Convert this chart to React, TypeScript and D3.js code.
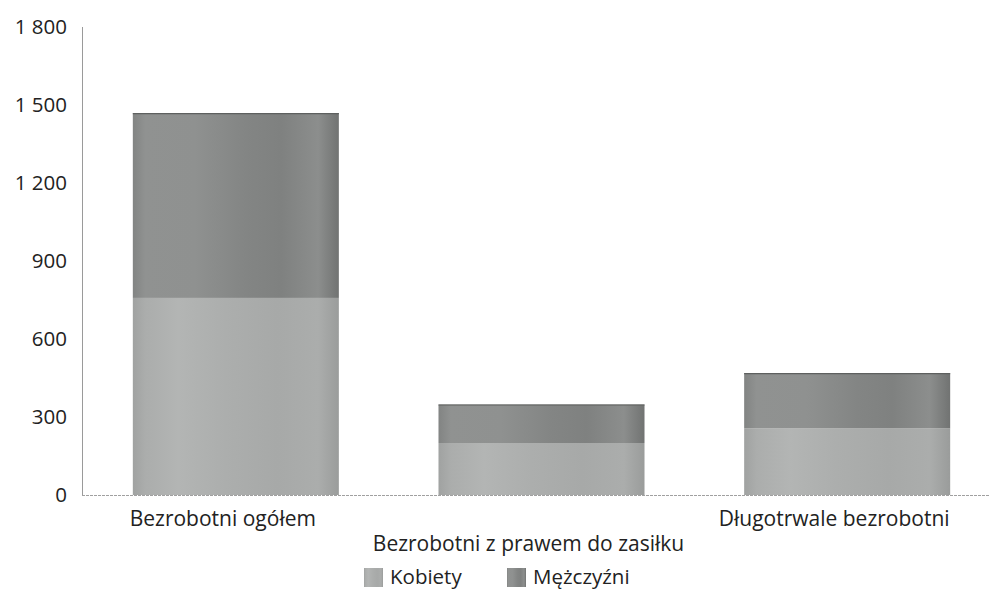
import React from "react";
import * as d3 from "d3";

const categories = ["Bezrobotni ogółem", "Bezrobotni z prawem do zasiłku", "Długotrwale bezrobotni"];
const seriesNames = ["Kobiety", "Mężczyźni"];
const kobiety = [758, 200, 256];
const mezczyzni = [711, 148, 213];
const yTicks = [0, 300, 600, 900, 1200, 1500, 1800];

const W = 989;
const H = 597;
const FONT = "'Open Sans', 'Noto Sans', sans-serif";

const locale = d3.formatLocale({ decimal: ",", thousands: " ", grouping: [3], currency: ["", ""] });
const fmt = locale.format(",d");

export default function App() {
  const x = d3.scaleBand<string>().domain(categories).range([83, 1000]).paddingInner(0.326).paddingOuter(0.163);
  const y = d3.scaleLinear().domain([0, 1800]).range([495, 27]);

  const rows = categories.map((c, i) => ({ cat: c, Kobiety: kobiety[i], "Mężczyźni": mezczyzni[i] }));
  const stack = d3.stack<any>().keys(seriesNames)(rows);

  const gradIds = ["gK", "gM"];
  const labelDy = [0, 25, 0];

  return (
    <svg width={W} height={H} style={{ position: "absolute", left: 0, top: 0, background: "#fff" }}>
      <defs>
        <linearGradient id="gK" x1="0" y1="0" x2="1" y2="0">
          <stop offset="0" stopColor="#a0a2a1" />
          <stop offset="0.06" stopColor="#abadac" />
          <stop offset="0.22" stopColor="#b3b5b4" />
          <stop offset="0.45" stopColor="#acaead" />
          <stop offset="0.7" stopColor="#a7a9a8" />
          <stop offset="0.9" stopColor="#abadac" />
          <stop offset="1" stopColor="#9a9c9b" />
        </linearGradient>
        <linearGradient id="gM" x1="0" y1="0" x2="1" y2="0">
          <stop offset="0" stopColor="#828483" />
          <stop offset="0.06" stopColor="#909291" />
          <stop offset="0.3" stopColor="#8f9190" />
          <stop offset="0.55" stopColor="#838584" />
          <stop offset="0.72" stopColor="#7f8180" />
          <stop offset="0.9" stopColor="#8c8e8d" />
          <stop offset="1" stopColor="#717372" />
        </linearGradient>
      </defs>

      <line x1={82.5} x2={82.5} y1={27} y2={495} stroke="#9a9a9a" strokeWidth={1} />
      <line x1={82} x2={989} y1={495.5} y2={495.5} stroke="#a0a0a0" strokeWidth={1} strokeDasharray="3 1" />

      {yTicks.map((t) => (
        <text key={t} x={67} y={y(t)} dy="0.35em" textAnchor="end" fontFamily={FONT} fontSize={20.5} fill="#222">
          {fmt(t)}
        </text>
      ))}

      {stack.map((s, si) => (
        <g key={seriesNames[si]} fill={`url(#${gradIds[si]})`}>
          {s.map((d: any, i: number) => (
            <rect
              key={i}
              x={x(categories[i])}
              y={y(d[1])}
              width={x.bandwidth()}
              height={y(d[0]) - y(d[1])}
            />
          ))}
        </g>
      ))}
      {stack[stack.length - 1].map((d: any, i: number) => (
        <line key={i} x1={x(categories[i])} x2={(x(categories[i]) as number) + x.bandwidth()} y1={y(d[1]) + 0.5} y2={y(d[1]) + 0.5} stroke="#5e605f" strokeWidth={1.2} />
      ))}

      {categories.map((c, i) => (
        <text key={c} x={(x(c) as number) + x.bandwidth() / 2 - 13} y={526 + labelDy[i]} textAnchor="middle" fontFamily={FONT} fontSize={21} fill="#222">
          {c}
        </text>
      ))}

      {seriesNames.map((n, i) => {
        const lx = [364, 507][i];
        return (
          <g key={n}>
            <rect x={lx} y={568} width={19} height={19} fill={`url(#${gradIds[i]})`} />
            <text x={lx + 26} y={584} fontFamily={FONT} fontSize={20.5} fill="#222">
              {n}
            </text>
          </g>
        );
      })}
    </svg>
  );
}
